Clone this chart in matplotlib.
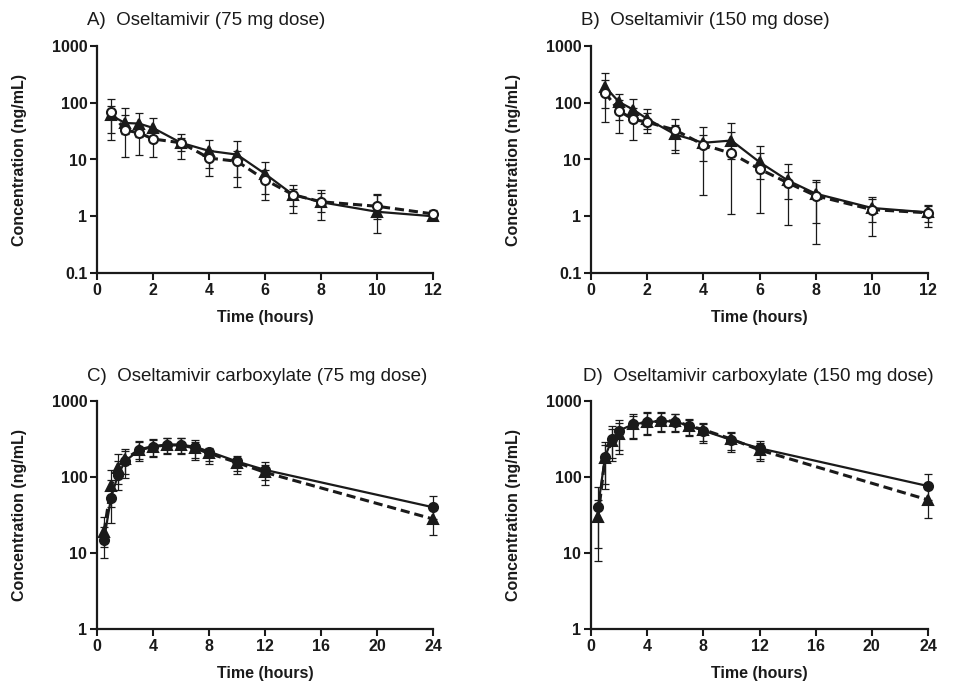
import matplotlib
matplotlib.use("Agg")
import matplotlib.pyplot as plt
import numpy as np

plt.rcParams['font.family'] = ['Liberation Sans', 'DejaVu Sans']

# ---------------- data ----------------
t_os = [0.5, 1, 1.5, 2, 3, 4, 5, 6, 7, 8, 10, 12]
t_oc = [0.5, 1, 1.5, 2, 3, 4, 5, 6, 7, 8, 10, 12, 24]

# Panel A: oseltamivir 75 mg
A_tri = [60, 44, 43, 36, 19.7, 14.2, 12.2, 5.6, 2.4, 1.77, 1.2, 1.0]
A_tri_hi = [87, 62, 65, 53, 28, 22.5, 20.8, 9.1, 3.6, 2.9, 2.4, 1.2]
A_tri_lo = [22.5, 28, 25, 20, 14, 7, 5, 2.5, 1.5, 1.2, 0.5, 0.85]
A_cir = [69, 33, 29.5, 23, 19.7, 10.6, 9.3, 4.4, 2.4, 1.8, 1.5, 1.1]
A_cir_hi = [115, 80, 40, 30, 24, 15, 14, 6.5, 3.0, 2.6, 2.5, 1.3]
A_cir_lo = [29, 11, 12, 11, 10, 5.2, 3.25, 1.97, 1.15, 0.85, 0.9, 0.95]

# Panel B: oseltamivir 150 mg
B_tri = [191, 103, 76, 52, 27.6, 19.7, 21.6, 9.0, 4.3, 2.5, 1.4, 1.17]
B_tri_hi = [330, 144, 117, 78, 40, 37.7, 44, 17.2, 8.2, 4.3, 2.2, 1.6]
B_tri_lo = [80, 50, 45, 35, 13, 9.6, 10, 4.5, 2.0, 0.75, 0.8, 0.8]
B_cir = [150, 72, 51, 45.6, 33, 18.2, 12.8, 6.8, 3.9, 2.3, 1.31, 1.15]
B_cir_hi = [250, 110, 80, 65, 51, 27, 30, 13, 6.0, 4.0, 2.0, 1.5]
B_cir_lo = [46, 29.5, 22.5, 29.5, 15, 2.4, 1.1, 1.15, 0.71, 0.32, 0.44, 0.65]

# Panel C: oseltamivir carboxylate 75 mg
C_cir = [15, 53, 107, 160, 228, 251, 264, 264, 251, 216, 160, 124, 40]
C_cir_hi = [22, 90, 160, 232, 298, 314, 330, 330, 307, 244, 190, 157, 57]
C_cir_lo = [8.6, 25, 68, 97, 160, 186, 200, 200, 180, 160, 120, 90, 28]
C_tri = [19, 75, 131, 170, 228, 251, 264, 264, 240, 205, 155, 115, 28]
C_tri_hi = [30, 124, 200, 220, 290, 310, 325, 325, 290, 235, 180, 145, 40]
C_tri_lo = [12, 40, 80, 110, 170, 190, 205, 205, 168, 149, 110, 79, 17]

# Panel D: oseltamivir carboxylate 150 mg
D_cir = [40, 186, 314, 408, 494, 525, 546, 536, 470, 408, 307, 239, 76]
D_cir_hi = [73, 292, 470, 563, 668, 724, 724, 675, 581, 520, 396, 298, 109]
D_cir_lo = [11.6, 69, 160, 200, 314, 358, 396, 396, 347, 284, 214, 160, 50]
D_tri = [30, 178, 300, 370, 494, 525, 546, 546, 470, 420, 315, 227, 50]
D_tri_hi = [50, 260, 430, 520, 640, 700, 700, 680, 560, 500, 380, 280, 70]
D_tri_lo = [7.8, 80, 180, 230, 330, 370, 400, 400, 360, 300, 230, 170, 29]

titles = ["A)  Oseltamivir (75 mg dose)", "B)  Oseltamivir (150 mg dose)",
          "C)  Oseltamivir carboxylate (75 mg dose)", "D)  Oseltamivir carboxylate (150 mg dose)"]

# ---------------- figure ----------------
W, H = 973, 683
fig = plt.figure(figsize=(W / 100, H / 100), dpi=100)

def axrect(x0, x1, y0, y1):
    return [x0 / W, 1 - y1 / H, (x1 - x0) / W, (y1 - y0) / H]

axA = fig.add_axes(axrect(97, 433, 46, 273))
axB = fig.add_axes(axrect(591, 928, 46, 273))
axC = fig.add_axes(axrect(97, 433, 401, 629))
axD = fig.add_axes(axrect(591, 928, 401, 629))

def series(ax, t, y, hi, lo, marker, ls, mfc):
    y = np.array(y); hi = np.array(hi); lo = np.array(lo)
    yerr = [y - lo, hi - y]
    ax.errorbar(t, y, yerr=yerr, fmt='none', ecolor='0.1', elinewidth=0.9,
                capsize=3.2, capthick=0.9, zorder=2, clip_on=False)
    if ls == '--':
        ax.plot(t, y, color='0.1', lw=2.2, linestyle=(0, (3.0, 1.6)), zorder=3, clip_on=False)
    else:
        ax.plot(t, y, color='0.1', lw=1.6, linestyle='-', zorder=3, clip_on=False)
    ax.plot(t, y, linestyle='none', marker=marker, ms=6.5, mfc=mfc, mec='0.1',
            mew=1.5, zorder=4, clip_on=False)

series(axA, t_os, A_tri, A_tri_hi, A_tri_lo, '^', '-', '0.1')
series(axA, t_os, A_cir, A_cir_hi, A_cir_lo, 'o', '--', 'white')
series(axB, t_os, B_tri, B_tri_hi, B_tri_lo, '^', '-', '0.1')
series(axB, t_os, B_cir, B_cir_hi, B_cir_lo, 'o', '--', 'white')
series(axC, t_oc, C_tri, C_tri_hi, C_tri_lo, '^', '--', '0.1')
series(axC, t_oc, C_cir, C_cir_hi, C_cir_lo, 'o', '-', '0.1')
series(axD, t_oc, D_tri, D_tri_hi, D_tri_lo, '^', '--', '0.1')
series(axD, t_oc, D_cir, D_cir_hi, D_cir_lo, 'o', '-', '0.1')

for ax, top in [(axA, True), (axB, True), (axC, False), (axD, False)]:
    ax.set_yscale('log')
    if top:
        ax.set_xlim(0, 12)
        ax.set_xticks([0, 2, 4, 6, 8, 10, 12])
        ax.set_ylim(0.1, 1000)
        ax.set_yticks([0.1, 1, 10, 100, 1000])
        ax.set_yticklabels(['0.1', '1', '10', '100', '1000'])
    else:
        ax.set_xlim(0, 24)
        ax.set_xticks([0, 4, 8, 12, 16, 20, 24])
        ax.set_ylim(1, 1000)
        ax.set_yticks([1, 10, 100, 1000])
        ax.set_yticklabels(['1', '10', '100', '1000'])
    ax.yaxis.set_minor_locator(matplotlib.ticker.NullLocator())
    for s in ['top', 'right']:
        ax.spines[s].set_visible(False)
    for s in ['left', 'bottom']:
        ax.spines[s].set_linewidth(1.6)
        ax.spines[s].set_color('0.1')
    ax.tick_params(axis='both', which='major', direction='out', length=5, width=1.5,
                   color='0.1', labelsize=11.5, pad=2)
    for lab in ax.get_xticklabels() + ax.get_yticklabels():
        lab.set_fontweight('bold')
        lab.set_color('0.1')
    ax.set_xlabel('Time (hours)', fontsize=11.5, fontweight='bold', color='0.1')
    ax.set_ylabel('Concentration (ng/mL)', fontsize=11.5, fontweight='bold', color='0.1')
    ax.yaxis.set_label_coords(-0.208, 0.5)
    ax.xaxis.set_label_coords(0.5, -0.165 if top else -0.162)
    ax.patch.set_alpha(0)

# titles
for (x, y), txt in zip([(87, 25), (581, 25), (87, 381), (583, 381)], titles):
    fig.text(x / W, 1 - y / H, txt, fontsize=13.5, color='0.1', va='baseline', ha='left')

fig.savefig('out.png', dpi=100)
